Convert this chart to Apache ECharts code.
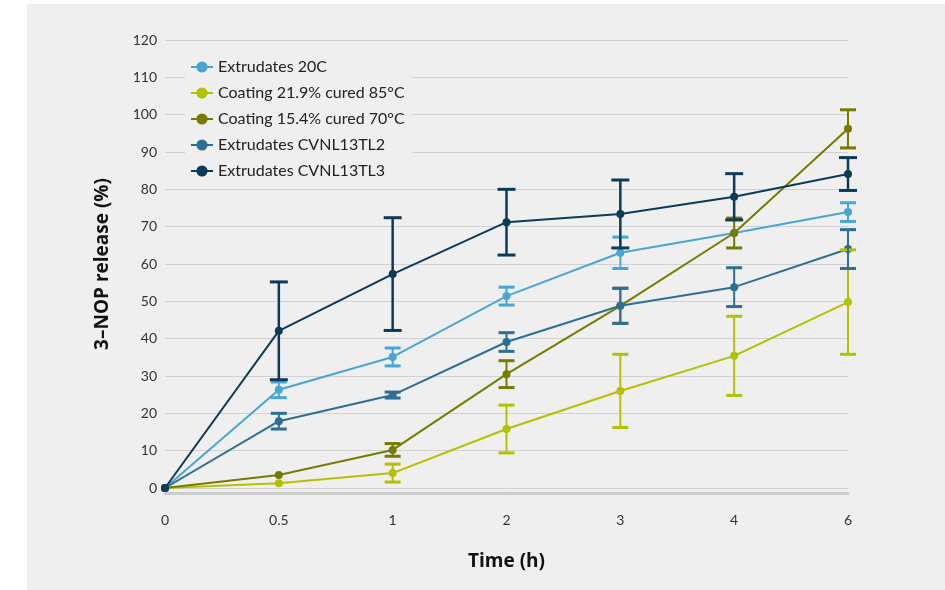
<!DOCTYPE html>
<html>
<head>
<meta charset="utf-8">
<script src="https://cdn.jsdelivr.net/npm/echarts@6/dist/echarts.min.js"></script>
<style>
html,body{margin:0;padding:0;background:#ffffff;width:945px;height:590px;overflow:hidden;}
#chart{position:absolute;left:27px;top:4px;width:918px;height:586px;background:#efefef;}
</style>
</head>
<body>
<div id="chart"></div>
<script>
// Categories (time, h)
const categories = ['0', '0.5', '1', '2', '3', '4', '6'];
const yTicks = { min: 0, max: 120, interval: 10 };

// Series values (% release) and their error half-widths
const seriesNames = ['Extrudates 20C', 'Coating 21.9% cured 85°C', 'Coating 15.4% cured 70°C', 'Extrudates CVNL13TL2', 'Extrudates CVNL13TL3'];
const extrudates20C      = [0, 26.3, 35.1, 51.4, 63.0, 68.3, 73.9];
const extrudates20CErr   = [0, 2.1, 2.4, 2.4, 4.2, 0, 2.5];
const coating219         = [0, 1.3, 4.0, 15.8, 26.0, 35.4, 49.8];
const coating219Err      = [0, 0, 2.4, 6.4, 9.8, 10.6, 14.0];
const coating154         = [0, 3.5, 10.2, 30.5, 48.8, 68.3, 96.2];
const coating154Err      = [0, 0, 1.7, 3.6, 4.7, 4.0, 5.1];
const extrudatesTL2      = [0, 17.9, 24.9, 39.1, 48.8, 53.8, 64.0];
const extrudatesTL2Err   = [0, 2.1, 0.8, 2.5, 4.7, 5.2, 5.2];
const extrudatesTL3      = [0, 42.1, 57.3, 71.2, 73.4, 78.0, 84.1];
const extrudatesTL3Err   = [0, 13.1, 15.1, 8.8, 9.1, 6.2, 4.4];

const colors = ['#48a6d6', '#b4c100', '#767b00', '#2d6e95', '#0c3a58'];
const values = [extrudates20C, coating219, coating154, extrudatesTL2, extrudatesTL3];
const errors = [extrudates20CErr, coating219Err, coating154Err, extrudatesTL2Err, extrudatesTL3Err];

const FONT = 'Lato, "Noto Sans", sans-serif';
const TITLE_FONT = '"Open Sans", "Noto Sans", sans-serif';

const lineSeries = seriesNames.map((name, i) => ({
  name: name,
  type: 'line',
  data: values[i],
  color: colors[i],
  symbol: 'circle',
  symbolSize: 8,
  lineStyle: { width: 2, color: colors[i] },
  itemStyle: { color: colors[i] },
  z: 3 + i
}));

const errorSeries = seriesNames.map((name, i) => {
  const data = [];
  values[i].forEach((v, k) => {
    const e = errors[i][k];
    if (e > 0) data.push([k, v - e, v + e]);
  });
  const lw = i === 4 ? 2.5 : 2;
  const cap = i === 4 ? 18 : 16;
  return {
    name: name,
    type: 'custom',
    data: data,
    encode: { x: 0, y: [1, 2] },
    z: 10 + i,
    silent: true,
    renderItem: function (params, api) {
      const x = api.value(0);
      const lo = api.coord([x, api.value(1)]);
      const hi = api.coord([x, api.value(2)]);
      const w = cap / 2;
      const c = colors[i];
      return {
        type: 'group',
        children: [
          { type: 'line', shape: { x1: lo[0], y1: lo[1], x2: hi[0], y2: hi[1] }, style: { stroke: c, lineWidth: lw } },
          { type: 'line', shape: { x1: lo[0] - w, y1: lo[1], x2: lo[0] + w, y2: lo[1] }, style: { stroke: c, lineWidth: 3 } },
          { type: 'line', shape: { x1: hi[0] - w, y1: hi[1], x2: hi[0] + w, y2: hi[1] }, style: { stroke: c, lineWidth: 3 } }
        ]
      };
    }
  };
});

const chart = echarts.init(document.getElementById('chart'), null, { renderer: 'canvas' });
chart.setOption({
  backgroundColor: '#efefef',
  animation: false,
  textStyle: { fontFamily: FONT },
  grid: { left: 138, right: 97, top: 36, bottom: 102, containLabel: false },
  legend: {
    data: seriesNames,
    orient: 'vertical',
    left: 158,
    top: 50,
    padding: [5, 8, 5, 5],
    itemGap: 10,
    itemWidth: 22,
    itemHeight: 14,
    backgroundColor: '#efefef',
    textStyle: { fontFamily: FONT, fontSize: 16, lineHeight: 14, color: '#222222' }
  },
  xAxis: {
    type: 'category',
    data: categories,
    boundaryGap: false,
    offset: 5,
    name: 'Time (h)',
    nameLocation: 'middle',
    nameGap: 59,
    nameTextStyle: { fontFamily: TITLE_FONT, fontSize: 19, fontWeight: 'bold', color: '#111111' },
    axisLine: { show: true, onZero: false, lineStyle: { color: '#cccccc', width: 3 } },
    axisTick: { show: false },
    axisLabel: { margin: 20, fontSize: 14, color: '#333333', fontFamily: FONT },
    splitLine: { show: false }
  },
  yAxis: {
    type: 'value',
    min: yTicks.min,
    max: yTicks.max,
    interval: yTicks.interval,
    name: '3–NOP release (%)',
    nameLocation: 'middle',
    nameRotate: 90,
    nameGap: 53,
    nameTextStyle: { fontFamily: TITLE_FONT, fontSize: 19, fontWeight: 'bold', color: '#111111' },
    axisLine: { show: false },
    axisTick: { show: false },
    axisLabel: { margin: 8, fontSize: 14, color: '#333333', fontFamily: FONT },
    splitLine: { show: true, lineStyle: { color: '#d2d2d2', width: 1 } }
  },
  series: lineSeries.concat(errorSeries)
});
</script>
</body>
</html>
